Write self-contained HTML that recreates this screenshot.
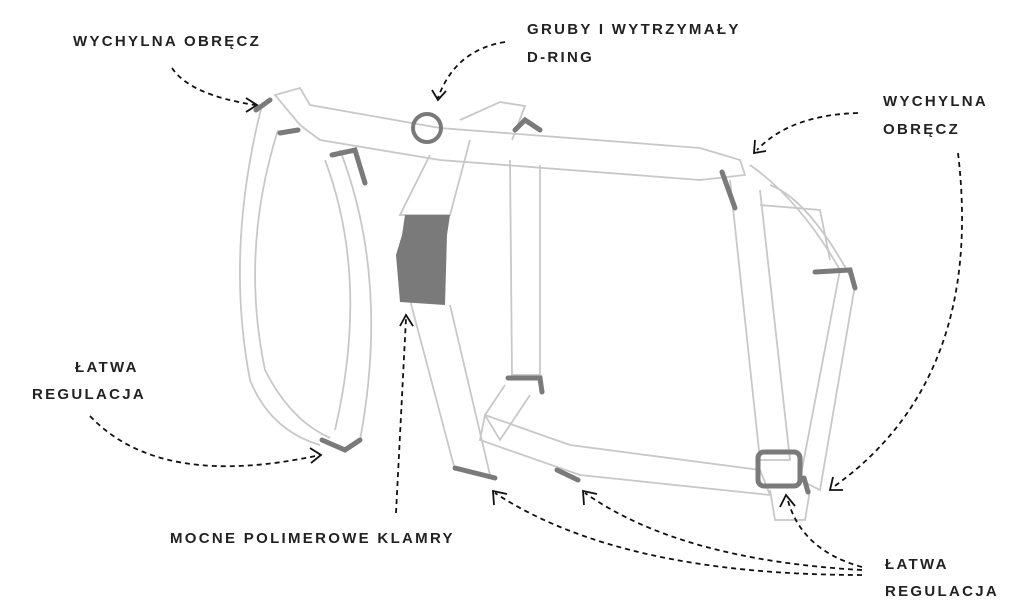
<!DOCTYPE html>
<html><head><meta charset="utf-8"><style>
body{margin:0;background:#fff;width:1024px;height:613px;overflow:hidden}
svg{display:block}
text{font-family:"Liberation Sans",sans-serif;font-size:15px;font-weight:bold;letter-spacing:2.3px;fill:#222}
.h{fill:none;stroke:#c8c8c8;stroke-width:1.8}
.d{fill:none;stroke:#7a7a7a;stroke-width:5;stroke-linecap:round}
.a{fill:none;stroke:#111;stroke-width:1.8;stroke-dasharray:5 4}
.ah{fill:none;stroke:#111;stroke-width:1.8}
</style></head><body>
<svg width="1024" height="613" viewBox="0 0 1024 613">
<text x="73" y="46">WYCHYLNA OBRĘCZ</text>
<text x="527" y="34">GRUBY I WYTRZYMAŁY</text>
<text x="527" y="62">D-RING</text>
<text x="883" y="106">WYCHYLNA</text>
<text x="883" y="134">OBRĘCZ</text>
<text x="75" y="372">ŁATWA</text>
<text x="32" y="399">REGULACJA</text>
<text x="170" y="543">MOCNE POLIMEROWE KLAMRY</text>
<text x="885" y="569">ŁATWA</text>
<text x="885" y="596">REGULACJA</text>

<g class="h">
<path d="M275 95 L300 88 L310 105 L440 128 L700 148 L740 160 L745 175 L700 180 L440 160 L320 140 L300 125 Z"/>
<path d="M262 105 Q225 250 250 380 Q270 430 320 445"/>
<path d="M278 130 Q240 250 265 370 Q290 420 330 438"/>
<path d="M340 150 Q390 280 360 440"/>
<path d="M325 160 Q370 280 335 430"/>
<path d="M430 155 L400 215 L450 215 L470 140"/>
<path d="M410 300 L455 470 L490 475 L450 305"/>
<path d="M460 120 L500 102 L525 106 L512 140"/>
<path d="M510 160 L512 375 L540 375 L540 165"/>
<path d="M505 385 L485 415 L500 440 L530 395"/>
<path d="M485 415 L570 445 L760 470 L770 495 L580 475 L480 440 Z"/>
<path d="M730 180 L760 460 L790 460 L760 190"/>
<path d="M750 165 Q800 200 840 270 L800 480 L820 490 L855 285 Q810 200 770 185"/>
<path d="M770 490 L775 520 L805 520 L810 490"/>
<path d="M760 205 L820 210 L830 260"/>
</g>
<g class="d">
<path d="M256 110 L270 100"/>
<path d="M280 133 L298 130"/>
<path d="M332 155 L355 150 L365 183"/>
<circle cx="427" cy="128" r="14" style="stroke-width:4"/>
<path d="M515 130 L525 120 L540 130"/>
<path d="M722 172 L735 208"/>
<path d="M815 272 L850 270 L855 288"/>
<path d="M508 378 L540 378 L542 392"/>
<path d="M322 440 L345 450 L360 440"/>
<path d="M455 468 L495 478"/>
<path d="M557 470 L578 480"/>
<path d="M804 478 L808 492"/>
</g>
<rect x="758" y="452" width="42" height="34" rx="6" fill="none" stroke="#7a7a7a" stroke-width="5"/>
<path d="M405 215 L450 215 L447 235 L445 305 L400 302 L396 255 L402 235 Z" fill="#7a7a7a"/>

<path class="a" d="M172 68 Q190 95 255 105"/><path class="ah" d="M246 98 L257 105 L246 112"/>
<path class="a" d="M505 42 Q455 50 438 98"/><path class="ah" d="M432 90 L438 100 L446 91"/>
<path class="a" d="M858 113 Q790 115 757 150"/><path class="ah" d="M755 140 L754 153 L766 151"/>
<path class="a" d="M958 153 Q985 380 832 488"/><path class="ah" d="M833 477 L830 490 L843 490"/>
<path class="a" d="M90 416 Q160 490 320 455"/><path class="ah" d="M310 448 L321 455 L311 463"/>
<path class="a" d="M396 513 L406 318"/><path class="ah" d="M400 326 L406 315 L413 326"/>
<path class="a" d="M862 575 Q620 575 495 493"/><path class="ah" d="M494 505 L493 491 L507 494"/>
<path class="a" d="M862 570 Q680 560 585 493"/><path class="ah" d="M584 505 L583 491 L597 494"/>
<path class="a" d="M862 567 Q800 550 787 497"/><path class="ah" d="M780 507 L786 495 L795 506"/>
</svg>
</body></html>
